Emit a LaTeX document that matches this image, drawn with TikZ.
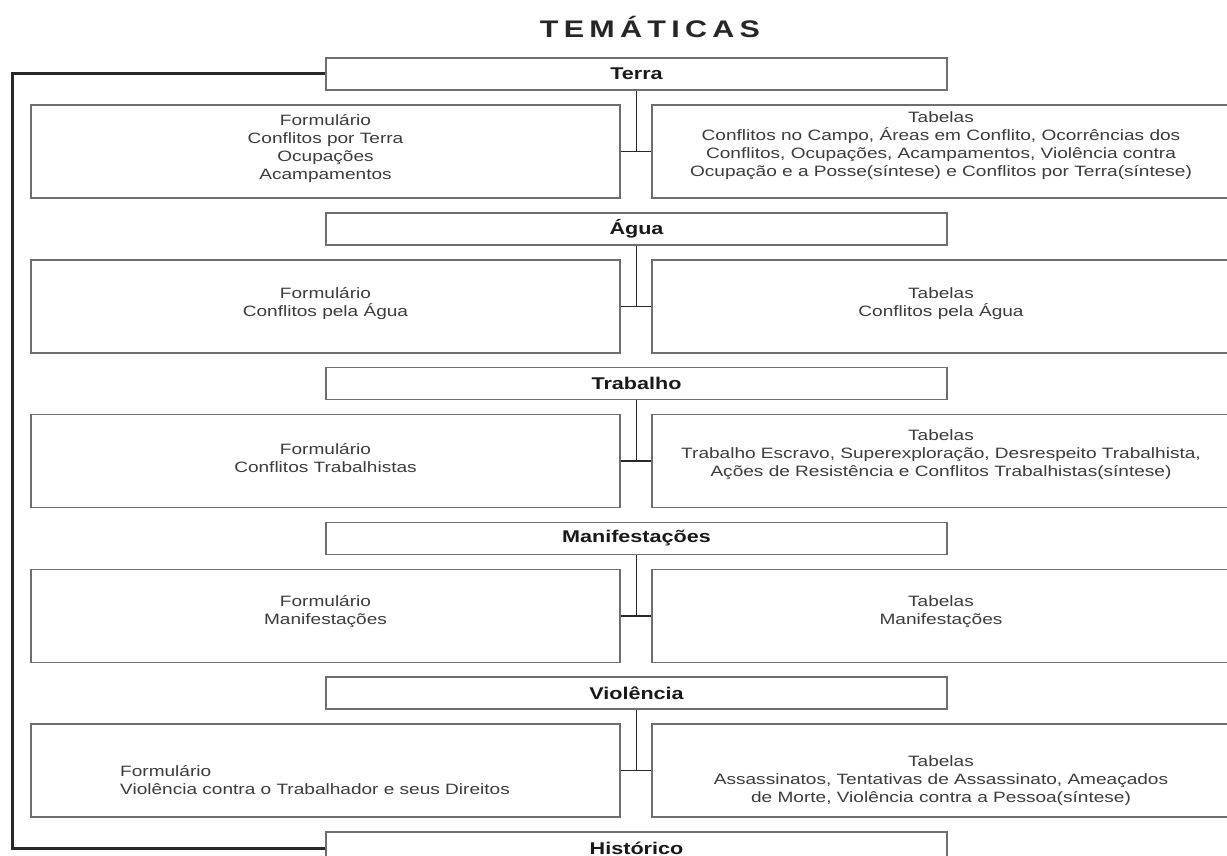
\documentclass[tikz,border=0pt]{standalone}
\usepackage{fontspec}
\setmainfont{Liberation Sans}[FakeStretch=1.27]
\newfontfamily\titlefont{Liberation Sans}[FakeStretch=1.27,LetterSpace=22]
\definecolor{boxgray}{RGB}{110,110,110}
\definecolor{txtgray}{RGB}{60,60,60}
\definecolor{linedark}{RGB}{40,40,40}
\tikzset{
  hdr/.style={draw=boxgray, line width=1.6pt, minimum width=621pt, minimum height=32pt, inner sep=0pt, font=\fontsize{17}{20}\selectfont\bfseries, text=black!90},
  lbox/.style={draw=boxgray, line width=1.6pt, minimum width=589pt, minimum height=93pt, inner sep=0pt},
  rbox/.style={draw=boxgray, line width=1.6pt, minimum width=578pt, minimum height=93pt, inner sep=0pt},
  txt/.style={align=center, font=\fontsize{15}{18}\selectfont, text=txtgray, inner sep=0pt},
  txtl/.style={align=left, font=\fontsize{15}{18}\selectfont, text=txtgray, inner sep=0pt, anchor=west},
  conn/.style={draw=linedark, line width=1.4pt},
  loopline/.style={draw=linedark, line width=3pt},
}
\begin{document}
\begin{tikzpicture}[x=1pt,y=-1pt]
\useasboundingbox (0,0) rectangle (1227,856);
\fill[white] (0,0) rectangle (1227,856);

\node[font=\titlefont\fontsize{24}{28}\selectfont\bfseries, text=black!85] (title) at (650,27) {TEMÁTICAS};

% headers
\node[hdr] (h1) at (636.5,74) {Terra};
\node[hdr] (h2) at (636.5,228.8) {Água};
\node[hdr] (h3) at (636.5,383.6) {Trabalho};
\node[hdr] (h4) at (636.5,538.4) {Manifestações};
\node[hdr] (h5) at (636.5,693.2) {Violência};
\node[hdr] (h6) at (636.5,848) {Histórico};

% boxes
\node[lbox] (l1) at (325.5,151.5) {};
\node[rbox] (r1) at (941,151.5) {};
\node[lbox] (l2) at (325.5,306.3) {};
\node[rbox] (r2) at (941,306.3) {};
\node[lbox] (l3) at (325.5,461.1) {};
\node[rbox] (r3) at (941,461.1) {};
\node[lbox] (l4) at (325.5,615.9) {};
\node[rbox] (r4) at (941,615.9) {};
\node[lbox] (l5) at (325.5,770.7) {};
\node[rbox] (r5) at (941,770.7) {};

% texts
\node[txt] (l1t) at ([yshift=3pt]l1.center) {Formulário\\Conflitos por Terra\\Ocupações\\Acampamentos};
\node[txt] (r1t) at ([yshift=6pt]r1.center) {Tabelas\\Conflitos no Campo, Áreas em Conflito, Ocorrências dos\\Conflitos, Ocupações, Acampamentos, Violência contra\\Ocupação e a Posse(síntese) e Conflitos por Terra(síntese)};
\node[txt] (l2t) at ([yshift=3pt]l2.center) {Formulário\\Conflitos pela Água};
\node[txt] (r2t) at ([yshift=3pt]r2.center) {Tabelas\\Conflitos pela Água};
\node[txt] (l3t) at ([yshift=3pt]l3.center) {Formulário\\Conflitos Trabalhistas};
\node[txt] (r3t) at ([yshift=6pt]r3.center) {Tabelas\\Trabalho Escravo, Superexploração, Desrespeito Trabalhista,\\Ações de Resistência e Conflitos Trabalhistas(síntese)};
\node[txt] (l4t) at ([yshift=4pt]l4.center) {Formulário\\Manifestações};
\node[txt] (r4t) at ([yshift=4pt]r4.center) {Tabelas\\Manifestações};
\node[txtl] (l5t) at (120,780) {Formulário\\Violência contra o Trabalhador e seus Direitos};
\node[txt] (r5t) at ([yshift=-10pt]r5.center) {Tabelas\\Assassinatos, Tentativas de Assassinato, Ameaçados\\de Morte, Violência contra a Pessoa(síntese)};

% connectors
\foreach \i in {1,...,5}{
  \draw[conn] (h\i.south) -- (h\i.south |- l\i.east);
  \draw[conn] (l\i.east) -- (r\i.west);
}

% loop
\coordinate (loopx) at (12,0);
\draw[loopline] (h1.west) -- (h1.west -| loopx) |- (h6.west);
\end{tikzpicture}
\end{document}
